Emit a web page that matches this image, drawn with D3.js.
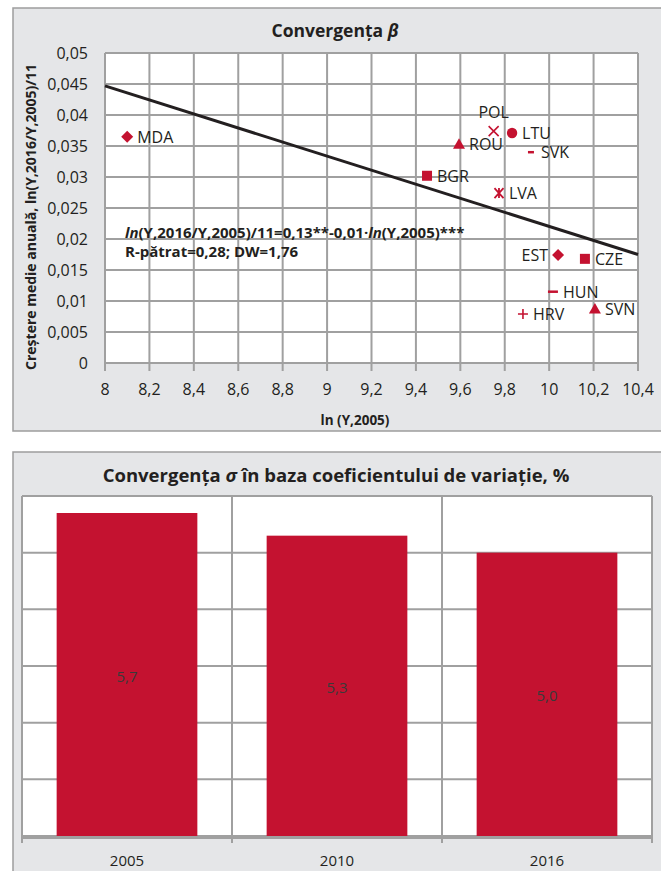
<!DOCTYPE html>
<html><head><meta charset="utf-8">
<script src="https://cdn.jsdelivr.net/npm/d3@7/dist/d3.min.js"></script>
<style>body{margin:0;background:#fff;} svg{display:block;font-family:"Open Sans",sans-serif;}</style>
</head><body>
<script>
// ---- Data: beta convergence scatter ----
const countries = ["MDA","POL","LTU","ROU","SVK","BGR","LVA","EST","CZE","HUN","HRV","SVN"];
const lnY2005   = [8.10, 9.75, 9.833, 9.594, 9.918, 9.45, 9.774, 10.04, 10.161, 10.017, 9.882, 10.206];
const growth    = [0.0365, 0.0374, 0.0371, 0.0353, 0.0340, 0.0302, 0.0274, 0.0174, 0.0168, 0.0115, 0.0079, 0.0087];
const markers   = ["diamond","x","circle","triangle","dashShort","square","asterisk","diamond","square","dash","plus","triangle"];
const labelPos  = ["right","top","right","right","right","right","right","left","right","right","right","right"];
const trendX    = [8, 10.4];
const trendY    = [0.0447, 0.0175];
const xTicks    = [8,8.2,8.4,8.6,8.8,9,9.2,9.4,9.6,9.8,10,10.2,10.4];
const yTicks    = [0,0.005,0.01,0.015,0.02,0.025,0.03,0.035,0.04,0.045,0.05];
// ---- Data: sigma convergence bars ----
const years     = ["2005","2010","2016"];
const cv        = [5.7, 5.3, 5.0];
const cvTicks   = [0,1,2,3,4,5,6];

const fmt = v => String(v).replace(".", ",");
const W = 661, H = 871;
const RED = "#c41230", GRID = "#a0a0a0", PANEL = "#e5e6e8", INK = "#231f20";

const svg = d3.select("body").append("svg").attr("width", W).attr("height", H);

// ================= TOP PANEL =================
svg.append("rect").attr("x",13).attr("y",8).attr("width",700).attr("height",423)
  .attr("fill",PANEL).attr("stroke","#9d9d9d").attr("stroke-width",1.5);

const t1 = svg.append("text").attr("x",335).attr("y",37).attr("text-anchor","middle")
  .attr("font-size",17.5).attr("font-weight","bold").attr("fill",INK);
t1.append("tspan").text("Convergența ");
t1.append("tspan").attr("font-style","italic").text("β");

const px0 = 105, px1 = 638, py0 = 53, py1 = 363;
const x = d3.scaleLinear().domain([8,10.4]).range([px0,px1]);
const y = d3.scaleLinear().domain([0,0.05]).range([py1,py0]);

svg.append("rect").attr("x",px0).attr("y",py0).attr("width",px1-px0).attr("height",py1-py0).attr("fill","#fff");

const g = svg.append("g");
g.selectAll(".vg").data(xTicks).join("line")
  .attr("x1",d=>x(d)).attr("x2",d=>x(d)).attr("y1",py0).attr("y2",py1+8)
  .attr("stroke",GRID).attr("stroke-width",2);
g.selectAll(".hg").data(yTicks).join("line")
  .attr("x1",px0).attr("x2",px1).attr("y1",d=>y(d)).attr("y2",d=>y(d))
  .attr("stroke",GRID).attr("stroke-width",2);

g.selectAll(".xl").data(xTicks).join("text")
  .attr("x",d=>x(d)).attr("y",py1+32).attr("text-anchor","middle")
  .attr("font-size",16).attr("fill",INK).text(fmt);
g.selectAll(".yl").data(yTicks).join("text")
  .attr("x",px0-17).attr("y",d=>y(d)+6).attr("text-anchor","end")
  .attr("font-size",16).attr("fill",INK).text(fmt);

svg.append("text").attr("x",355).attr("y",425).attr("text-anchor","middle")
  .attr("font-size",13.5).attr("font-weight","bold").attr("fill",INK).text("ln (Y,2005)");
svg.append("text").attr("transform",`translate(36,${(py0+py1)/2+9}) rotate(-90)`)
  .attr("text-anchor","middle").attr("font-size",14).attr("font-weight","bold").attr("fill",INK)
  .text("Creștere medie anuală, ln(Y,2016/Y,2005)/11");

// trend line
svg.append("line").attr("x1",x(trendX[0])).attr("y1",y(trendY[0]))
  .attr("x2",x(trendX[1])).attr("y2",y(trendY[1]))
  .attr("stroke",INK).attr("stroke-width",3);

// equation
const eq = svg.append("text").attr("x",125).attr("y",238).attr("font-size",15).attr("font-weight","bold").attr("fill",INK);
eq.append("tspan").attr("font-style","italic").text("ln");
eq.append("tspan").text("(Y,2016/Y,2005)/11=0,13**-0,01·");
eq.append("tspan").attr("font-style","italic").text("ln");
eq.append("tspan").text("(Y,2005)***");
svg.append("text").attr("x",125).attr("y",257).attr("font-size",15).attr("font-weight","bold").attr("fill",INK)
  .text("R-pătrat=0,28; DW=1,76");

// markers
const pts = countries.map((c,i)=>({c, x:x(lnY2005[i]), y:y(growth[i]), m:markers[i], lp:labelPos[i]}));
const mg = svg.append("g");
pts.forEach(p=>{
  const gg = mg.append("g").attr("transform",`translate(${p.x},${p.y})`);
  switch(p.m){
    case "diamond": gg.append("path").attr("d","M0,-6L6,0L0,6L-6,0Z").attr("fill",RED); break;
    case "square": gg.append("rect").attr("x",-5).attr("y",-5).attr("width",10).attr("height",10).attr("fill",RED); break;
    case "circle": gg.append("circle").attr("r",5.2).attr("fill",RED); break;
    case "triangle": gg.append("path").attr("d","M0,-6L6,4.5L-6,4.5Z").attr("fill",RED); break;
    case "x": gg.append("path").attr("d","M-5,-5L5,5M5,-5L-5,5").attr("stroke",RED).attr("stroke-width",1.6); break;
    case "plus": gg.append("path").attr("d","M-5,0L5,0M0,-5L0,5").attr("stroke",RED).attr("stroke-width",1.6); break;
    case "asterisk": gg.append("path").attr("d","M-4.5,-5L4.5,5M4.5,-5L-4.5,5M0,-5L0,5").attr("stroke",RED).attr("stroke-width",1.8); break;
    case "dash": gg.append("path").attr("d","M-5,0L5,0").attr("stroke",RED).attr("stroke-width",2.5); break;
    case "dashShort": gg.append("path").attr("d","M-3,0L3,0").attr("stroke",RED).attr("stroke-width",2.5); break;
  }
  const lab = mg.append("text").attr("font-size",16).attr("fill",INK).text(p.c);
  if(p.lp==="right") lab.attr("x",p.x+10).attr("y",p.y+6);
  else if(p.lp==="left") lab.attr("x",p.x-10).attr("y",p.y+6).attr("text-anchor","end");
  else lab.attr("x",p.x).attr("y",p.y-13).attr("text-anchor","middle");
});

// ================= BOTTOM PANEL =================
svg.append("rect").attr("x",13).attr("y",452).attr("width",700).attr("height",500)
  .attr("fill",PANEL).attr("stroke","#9d9d9d").attr("stroke-width",1.5);

const t2 = svg.append("text").attr("x",336).attr("y",482).attr("text-anchor","middle")
  .attr("font-size",18.5).attr("font-weight","bold").attr("fill",INK);
t2.append("tspan").text("Convergența ");
t2.append("tspan").attr("font-style","italic").text("σ");
t2.append("tspan").text(" în baza coeficientului de variație, %");

const bx0 = 22, bx1 = 652, by0 = 496, by1 = 836;
const xb = d3.scaleBand().domain(years).range([bx0,bx1]).paddingInner(0.33).paddingOuter(0.165);
const xbb = d3.scaleBand().domain(years).range([bx0,bx1]);
const yb = d3.scaleLinear().domain([0,6]).range([by1,by0]);

svg.append("rect").attr("x",bx0).attr("y",by0).attr("width",bx1-bx0).attr("height",by1-by0).attr("fill","#fff");
svg.selectAll(".bh").data(cvTicks).join("line")
  .attr("x1",bx0).attr("x2",bx1).attr("y1",d=>yb(d)).attr("y2",d=>yb(d))
  .attr("stroke",GRID).attr("stroke-width",2);
const bounds = years.map(d=>xbb(d)).concat([bx1]);
svg.selectAll(".bv").data(bounds).join("line")
  .attr("x1",d=>d).attr("x2",d=>d).attr("y1",by0).attr("y2",by1+7)
  .attr("stroke",GRID).attr("stroke-width",2);
svg.append("line").attr("x1",bx0).attr("x2",bx1).attr("y1",by1+1.5).attr("y2",by1+1.5)
  .attr("stroke",GRID).attr("stroke-width",3);

svg.selectAll(".bar").data(years).join("rect")
  .attr("x",d=>xb(d)).attr("width",xb.bandwidth())
  .attr("y",(d,i)=>yb(cv[i])).attr("height",(d,i)=>by1-yb(cv[i]))
  .attr("fill",RED);
svg.selectAll(".bl").data(years).join("text")
  .attr("x",d=>xb(d)+xb.bandwidth()/2).attr("y",(d,i)=>(yb(cv[i])+by1)/2+7)
  .attr("text-anchor","middle").attr("font-size",15).attr("fill","#3a3a3a")
  .text((d,i)=>fmt(cv[i].toFixed(1)));
svg.selectAll(".bxl").data(years).join("text")
  .attr("x",d=>xbb(d)+xbb.bandwidth()/2).attr("y",866)
  .attr("text-anchor","middle").attr("font-size",15).attr("fill",INK).text(d=>d);
</script>
</body></html>
